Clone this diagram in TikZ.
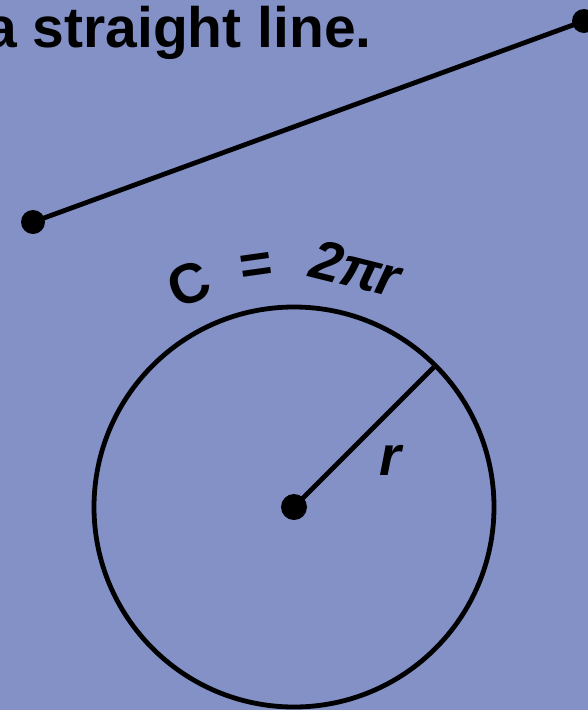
\documentclass[tikz,border=0pt]{standalone}
\usepackage{fontspec}
\setmainfont{Liberation Sans}
\definecolor{bg}{RGB}{131,145,199}
\begin{document}
\begin{tikzpicture}[x=1pt,y=-1pt,line width=4.8pt,
  dot/.style={circle,fill=black,inner sep=0pt,minimum size=24pt},
  lbl/.style={font=\fontsize{56}{56}\selectfont\bfseries,inner sep=0pt},
  ilbl/.style={font=\fontsize{56}{56}\selectfont\bfseries\itshape,inner sep=0pt}]
\fill[bg] (0,0) rectangle (588,710);
\useasboundingbox (0,0) rectangle (588,710);
\node[lbl,font=\fontsize{57}{57}\selectfont\bfseries,anchor=base east] (title) at (374,47) {a straight line.};
% straight line
\node[dot] (p1) at (33,222) {};
\node[dot] (p2) at (584,21) {};
\draw (p1.center) -- (p2.center);
% circle
\coordinate (c) at (294,507);
\draw (c) circle[radius=200];
\coordinate (e) at ([shift={(-45:200)}]c);
\node[dot,minimum size=26pt] (cd) at (c) {};
\draw (cd.center) -- (e);
\node[ilbl,anchor=base] (rl) at (390,475) {r};
% curved formula
\node[lbl,anchor=base,rotate=22] (tC) at ([shift={(-115.5:227)}]c) {C};
\node[lbl,anchor=base,rotate=8] (teq) at ([shift={(-99:227)}]c) {=};
\node[ilbl,anchor=base,rotate=-14] (t2pr) at ([shift={(-75.5:227)}]c) {2π\kern-3pt r};
\end{tikzpicture}
\end{document}
